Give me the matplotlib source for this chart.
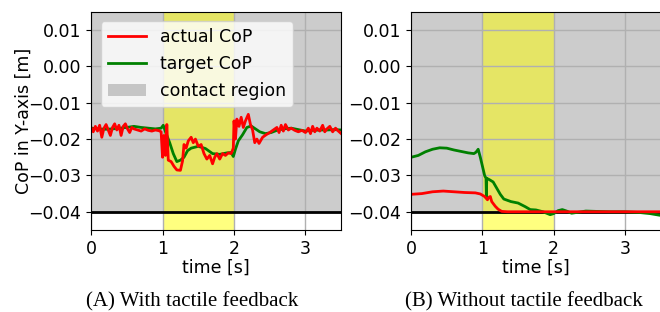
"""CoP tracking with / without tactile feedback — two-panel comparison."""

import matplotlib
matplotlib.use("Agg")
import matplotlib.pyplot as plt
from matplotlib.patches import Patch
from matplotlib.lines import Line2D

# --- (A) with tactile feedback ---
t_act_a = [0.00, 0.03, 0.06, 0.09, 0.12, 0.15, 0.18, 0.21, 0.24, 0.27, 0.30, 0.33,
           0.36, 0.39, 0.42, 0.45, 0.48, 0.51, 0.54, 0.57, 0.60, 0.65, 0.70, 0.75,
           0.80, 0.85, 0.90, 0.95, 0.98, 1.00, 1.02, 1.04, 1.06, 1.08, 1.12, 1.16,
           1.20, 1.25, 1.28, 1.30, 1.33, 1.36, 1.40, 1.43, 1.46, 1.50, 1.54, 1.58,
           1.62, 1.66, 1.70, 1.73, 1.76, 1.80, 1.84, 1.88, 1.92, 1.96, 1.99, 2.00,
           2.02, 2.04, 2.07, 2.10, 2.13, 2.16, 2.20, 2.23, 2.26, 2.29, 2.32, 2.35,
           2.40, 2.45, 2.50, 2.55, 2.60, 2.63, 2.66, 2.69, 2.72, 2.76, 2.80, 2.85,
           2.90, 2.95, 3.00, 3.04, 3.07, 3.10, 3.13, 3.16, 3.20, 3.24, 3.27, 3.30,
           3.34, 3.38, 3.42, 3.46, 3.50]
cop_act_a = [-0.0168, -0.0180, -0.0165, -0.0178, -0.0162, -0.0195, -0.0170, -0.0160,
             -0.0175, -0.0190, -0.0168, -0.0158, -0.0175, -0.0162, -0.0190, -0.0165,
             -0.0158, -0.0172, -0.0182, -0.0168, -0.0172, -0.0175, -0.0178, -0.0172,
             -0.0176, -0.0178, -0.0175, -0.0177, -0.0180, -0.0250, -0.0190, -0.0245,
             -0.0160, -0.0258, -0.0262, -0.0275, -0.0285, -0.0286, -0.0260, -0.0215,
             -0.0225, -0.0205, -0.0195, -0.0210, -0.0200, -0.0220, -0.0215, -0.0240,
             -0.0255, -0.0245, -0.0268, -0.0250, -0.0240, -0.0255, -0.0240, -0.0245,
             -0.0238, -0.0240, -0.0225, -0.0150, -0.0200, -0.0145, -0.0165, -0.0140,
             -0.0168, -0.0150, -0.0132, -0.0160, -0.0175, -0.0210, -0.0200, -0.0212,
             -0.0195, -0.0188, -0.0182, -0.0175, -0.0168, -0.0182, -0.0162, -0.0178,
             -0.0160, -0.0175, -0.0170, -0.0176, -0.0180, -0.0176, -0.0182, -0.0170,
             -0.0185, -0.0165, -0.0180, -0.0170, -0.0178, -0.0162, -0.0180, -0.0172,
             -0.0165, -0.0180, -0.0170, -0.0178, -0.0185]

t_tgt_a = [0.00, 0.10, 0.20, 0.30, 0.40, 0.50, 0.60, 0.70, 0.80, 0.90, 0.98, 1.01,
           1.05, 1.10, 1.15, 1.20, 1.25, 1.30, 1.35, 1.40, 1.50, 1.60, 1.70, 1.80,
           1.90, 1.96, 1.99, 2.02, 2.06, 2.12, 2.18, 2.24, 2.30, 2.36, 2.44, 2.52,
           2.60, 2.70, 2.80, 2.90, 3.00, 3.10, 3.20, 3.30, 3.40, 3.50]
cop_tgt_a = [-0.0170, -0.0172, -0.0173, -0.0172, -0.0170, -0.0168, -0.0165, -0.0168,
             -0.0170, -0.0172, -0.0170, -0.0162, -0.0185, -0.0210, -0.0240, -0.0262,
             -0.0258, -0.0250, -0.0232, -0.0225, -0.0220, -0.0226, -0.0240, -0.0242,
             -0.0238, -0.0237, -0.0248, -0.0228, -0.0205, -0.0188, -0.0168, -0.0164,
             -0.0172, -0.0180, -0.0185, -0.0182, -0.0176, -0.0172, -0.0170, -0.0174,
             -0.0178, -0.0176, -0.0175, -0.0175, -0.0174, -0.0175]

# --- (B) without tactile feedback ---
t_act_b = [0.00, 0.15, 0.30, 0.45, 0.60, 0.75, 0.90, 0.97, 1.03, 1.07, 1.09, 1.11,
           1.13, 1.18, 1.22, 1.27, 1.35, 3.50]
cop_act_b = [-0.0352, -0.0350, -0.0345, -0.0343, -0.0345, -0.0347, -0.0348, -0.0351,
             -0.0358, -0.0367, -0.0360, -0.0358, -0.0372, -0.0385, -0.0393, -0.0399,
             -0.0400, -0.0400]

t_tgt_b = [0.00, 0.10, 0.20, 0.30, 0.40, 0.50, 0.60, 0.70, 0.80, 0.88, 0.91, 0.94,
           0.97, 1.00, 1.03, 1.05, 1.055, 1.06, 1.10, 1.15, 1.20, 1.25, 1.30, 1.40,
           1.50, 1.60, 1.67, 1.75, 1.85, 1.95, 2.00, 2.06, 2.12, 2.18, 2.25, 2.32,
           2.45, 2.60, 2.80, 3.00, 3.20, 3.35, 3.50]
cop_tgt_b = [-0.0250, -0.0245, -0.0235, -0.0228, -0.0224, -0.0225, -0.0230, -0.0234,
             -0.0238, -0.0240, -0.0236, -0.0228, -0.0250, -0.0275, -0.0300, -0.0308,
             -0.0360, -0.0308, -0.0312, -0.0318, -0.0335, -0.0352, -0.0365, -0.0372,
             -0.0376, -0.0386, -0.0394, -0.0395, -0.0400, -0.0408, -0.0405, -0.0397,
             -0.0394, -0.0398, -0.0404, -0.0402, -0.0398, -0.0399, -0.0400, -0.0400,
             -0.0402, -0.0405, -0.0410]

contact_floor = -0.04
switch_window = (1.0, 2.0)
x_ticks = [0, 1, 2, 3]
y_ticks = [0.01, 0.00, -0.01, -0.02, -0.03, -0.04]
captions = ["(A) With tactile feedback", "(B) Without tactile feedback"]

fig = plt.figure(figsize=(6.6, 3.12), dpi=100)
ax_a = fig.add_axes([0.138, 0.263, 0.379, 0.699])
ax_b = fig.add_axes([0.623, 0.263, 0.378, 0.699])

panels = [(ax_a, t_act_a, cop_act_a, t_tgt_a, cop_tgt_a),
          (ax_b, t_act_b, cop_act_b, t_tgt_b, cop_tgt_b)]

for ax, ta, ca, tt, ct in panels:
    ax.set_xlim(0, 3.5)
    ax.set_ylim(-0.045, 0.015)
    ax.fill_between([0, 3.5], contact_floor, 0.015, color="gray", alpha=0.4, lw=0)
    ax.axvspan(*switch_window, color="yellow", alpha=0.5, lw=0)
    ax.axhline(contact_floor, color="black", linewidth=2)
    ax.plot(tt, ct, color="green", linewidth=2)
    ax.plot(ta, ca, color="red", linewidth=2)
    ax.set_xticks(x_ticks)
    ax.set_yticks(y_ticks)
    ax.set_yticklabels([f"{v:.2f}".replace("-", "\u2212") for v in y_ticks])
    ax.tick_params(labelsize=12.5)
    ax.grid(True, color="#b0b0b0", linewidth=1)
    ax.set_xlabel("time [s]", fontsize=12.5, labelpad=1)

ax_a.set_ylabel("CoP in Y-axis [m]", fontsize=12.5, labelpad=-3)

handles = [Line2D([], [], color="red", linewidth=2),
           Line2D([], [], color="green", linewidth=2),
           Patch(facecolor="gray", alpha=0.4)]
ax_a.legend(handles, ["actual CoP", "target CoP", "contact region"],
            loc="upper left", fontsize=12.5, framealpha=0.8,
            borderaxespad=0.55, handlelength=2.2)

fig.text(0.291, 0.019, captions[0], ha="center", va="baseline", fontsize=15,
         family="Liberation Serif")
fig.text(0.794, 0.019, captions[1], ha="center", va="baseline", fontsize=15,
         family="Liberation Serif")

fig.savefig("out.png", dpi=100)
